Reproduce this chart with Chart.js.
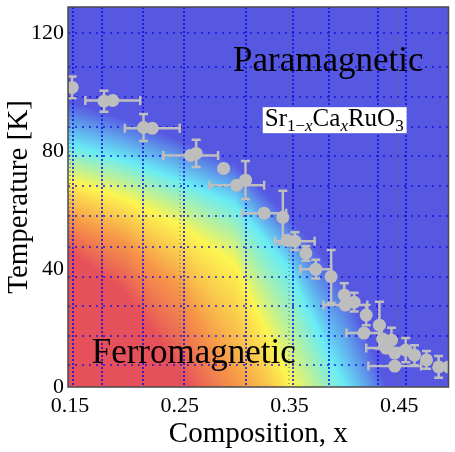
<!DOCTYPE html>
<html>
<head>
<meta charset="utf-8">
<script src="https://cdn.jsdelivr.net/npm/chart.js@4.4.1/dist/chart.umd.min.js"></script>
<style>
  html, body { margin: 0; padding: 0; background: #fff; }
  #wrap { width: 455px; height: 452px; }
</style>
</head>
<body>
<div id="wrap"><canvas id="phase" width="455" height="452"></canvas></div>
<script>
// Tc points
var compX = [0.152, 0.181, 0.189, 0.217, 0.225, 0.260, 0.265, 0.290, 0.302, 0.310,
             0.327, 0.344, 0.348, 0.355, 0.365, 0.374, 0.388, 0.400, 0.401, 0.409,
             0.420, 0.432, 0.418, 0.435, 0.443, 0.438, 0.446, 0.456, 0.464, 0.446,
             0.475, 0.486, 0.495];
var tempK = [101.7, 97.0, 97.3, 88.1, 87.8, 78.6, 79.3, 74.2, 68.5, 70.2,
             59.0, 57.6, 49.8, 49.5, 45.4, 40.0, 37.5, 31.2, 27.8, 28.8,
             24.4, 21.0, 18.3, 16.3, 15.9, 13.2, 11.5, 12.5, 10.8, 7.1,
             9.2, 6.8, 6.8];
var errX  = [0, 0, 0.025, 0, 0.025, 0.025, 0, 0, 0.025, 0,
             0.02, 0, 0, 0.018, 0, 0.014, 0, 0, 0.02, 0,
             0, 0, 0.016, 0, 0, 0.018, 0, 0, 0, 0.024,
             0, 0, 0];
var errT  = [3.7, 3.6, 0, 4.6, 0, 0, 4.6, 0, 0, 6.5,
             0, 9, 0, 3, 2.5, 3.2, 9, 4, 0, 3.2,
             3.4, 7.9, 0, 0, 4.2, 0, 0, 4.1, 3.4, 0,
             3, 3.7, 0];

// axes
var xTickLabels = [0.15, 0.25, 0.35, 0.45];
var yTickLabels = [0, 40, 80, 120];
var xGridLines = [0.153, 0.179, 0.217, 0.254, 0.31, 0.353, 0.386, 0.431, 0.456];
var yGridLines = [7.5, 17.3, 27.5, 37.3, 47.5, 58, 68.1, 78.3, 88.1, 98.3, 108.5, 120.3];

// background map: temperature at which each colour sits, per composition column
var mapX      = [0.15, 0.20, 0.25, 0.30, 0.35, 0.40, 0.45, 0.50];
var mapRed    = [46, 32, 5, -30, -60, -90, -120, -150];
var mapOrange = [57, 49, 33, 2, -30, -60, -90, -120];
var mapYellow = [70, 64, 55, 42, 2, -40, -80, -110];
var mapCyan   = [82, 77, 70, 62, 40, 0, -40, -80];
var mapBlue   = [97, 91, 84, 76, 58, 36, -10, -60];
var mapColors = [[230, 80, 90], [246, 150, 72], [252, 245, 80], [105, 236, 245], [86, 88, 226]];

function colAt(arr, x) {
  if (x <= mapX[0]) return arr[0];
  for (var i = 1; i < mapX.length; i++) {
    if (x <= mapX[i]) {
      var f = (x - mapX[i - 1]) / (mapX[i] - mapX[i - 1]);
      return arr[i - 1] + f * (arr[i] - arr[i - 1]);
    }
  }
  return arr[arr.length - 1];
}

function mixColor(lv, t) {
  if (t <= lv[0]) return mapColors[0];
  if (t >= lv[4]) return mapColors[4];
  for (var k = 0; k < 4; k++) {
    if (t < lv[k + 1]) {
      var f = (t - lv[k]) / (lv[k + 1] - lv[k]);
      var a = mapColors[k], b = mapColors[k + 1];
      return [a[0] + f * (b[0] - a[0]), a[1] + f * (b[1] - a[1]), a[2] + f * (b[2] - a[2])];
    }
  }
  return mapColors[4];
}

var heatmap = {
  id: 'heatmap',
  beforeDraw: function(chart) {
    var a = chart.chartArea, sx = chart.scales.x, sy = chart.scales.y;
    var w = Math.round(a.right - a.left), h = Math.round(a.bottom - a.top);
    var off = document.createElement('canvas');
    off.width = w; off.height = h;
    var octx = off.getContext('2d');
    var img = octx.createImageData(w, h);
    var levels = [mapRed, mapOrange, mapYellow, mapCyan, mapBlue];
    for (var i = 0; i < w; i++) {
      var x = sx.getValueForPixel(a.left + i + 0.5);
      var lv = levels.map(function(arr) { return colAt(arr, x); });
      for (var j = 0; j < h; j++) {
        var t = sy.getValueForPixel(a.top + j + 0.5);
        var c = mixColor(lv, t);
        var k = (j * w + i) * 4;
        img.data[k] = c[0]; img.data[k + 1] = c[1]; img.data[k + 2] = c[2]; img.data[k + 3] = 255;
      }
    }
    octx.putImageData(img, 0, 0);
    chart.ctx.drawImage(off, a.left, a.top);
  }
};

var errorBars = {
  id: 'errorBars',
  beforeDatasetsDraw: function(chart) {
    var ctx = chart.ctx, sx = chart.scales.x, sy = chart.scales.y, a = chart.chartArea;
    ctx.save();
    ctx.beginPath();
    ctx.rect(a.left, a.top, a.right - a.left, a.bottom - a.top);
    ctx.clip();
    ctx.strokeStyle = '#bebebe';
    ctx.lineWidth = 2.5;
    var cap = 4.5;
    for (var i = 0; i < compX.length; i++) {
      var px = sx.getPixelForValue(compX[i]), py = sy.getPixelForValue(tempK[i]);
      ctx.beginPath();
      if (errX[i]) {
        var x0 = sx.getPixelForValue(compX[i] - errX[i]), x1 = sx.getPixelForValue(compX[i] + errX[i]);
        ctx.moveTo(x0, py); ctx.lineTo(x1, py);
        ctx.moveTo(x0, py - cap); ctx.lineTo(x0, py + cap);
        ctx.moveTo(x1, py - cap); ctx.lineTo(x1, py + cap);
      }
      if (errT[i]) {
        var y0 = sy.getPixelForValue(tempK[i] - errT[i]), y1 = sy.getPixelForValue(tempK[i] + errT[i]);
        ctx.moveTo(px, y0); ctx.lineTo(px, y1);
        ctx.moveTo(px - cap, y0); ctx.lineTo(px + cap, y0);
        ctx.moveTo(px - cap, y1); ctx.lineTo(px + cap, y1);
      }
      ctx.stroke();
    }
    ctx.restore();
  }
};

var annotations = {
  id: 'annotations',
  afterDatasetsDraw: function(chart) {
    var ctx = chart.ctx, sx = chart.scales.x, sy = chart.scales.y, a = chart.chartArea;
    ctx.save();
    // frame
    ctx.strokeStyle = '#4a4a4a';
    ctx.lineWidth = 1.5;
    ctx.strokeRect(a.left, a.top, a.right - a.left, a.bottom - a.top);

    ctx.fillStyle = '#000';
    ctx.textBaseline = 'alphabetic';
    ctx.textAlign = 'left';
    ctx.font = "35px 'Liberation Serif', serif";
    ctx.fillText('Paramagnetic', sx.getPixelForValue(0.2986), sy.getPixelForValue(107.3));
    ctx.fillText('Ferromagnetic', sx.getPixelForValue(0.1698), sy.getPixelForValue(8.1));

    // formula label in a white box
    var parts = [['Sr', 0], ['1\u2212', 1], ['x', 2], ['Ca', 0], ['x', 2], ['RuO', 0], ['3', 1]];
    var fonts = ["25px 'Liberation Serif', serif", "17px 'Liberation Serif', serif", "italic 17px 'Liberation Serif', serif"];
    var total = 0;
    parts.forEach(function(p) { ctx.font = fonts[p[1]]; total += ctx.measureText(p[0]).width; });
    var bx = sx.getPixelForValue(0.3257), by = sy.getPixelForValue(95);
    var bh = 26;
    ctx.fillStyle = '#fff';
    ctx.fillRect(bx, by, total + 5, bh);
    ctx.fillStyle = '#000';
    var cx = bx + 2, base = by + 19;
    parts.forEach(function(p) {
      ctx.font = fonts[p[1]];
      ctx.fillText(p[0], cx, p[1] ? base + 5 : base);
      cx += ctx.measureText(p[0]).width;
    });
    ctx.restore();
  }
};

Chart.defaults.font.family = "'Liberation Serif', 'Times New Roman', serif";
Chart.defaults.color = '#000';

var ctx = document.getElementById('phase').getContext('2d');
window.phaseChart = new Chart(ctx, {
  type: 'scatter',
  data: {
    datasets: [{
      data: compX.map(function(x, i) { return { x: x, y: tempK[i] }; }),
      pointRadius: 6.5,
      pointBackgroundColor: '#bebebe',
      pointBorderWidth: 0,
      pointHoverRadius: 6.5
    }]
  },
  options: {
    responsive: false,
    devicePixelRatio: 1,
    animation: false,
    layout: { padding: { top: 7, right: 2, left: 0, bottom: 0 } },
    plugins: {
      legend: { display: false },
      tooltip: { enabled: false }
    },
    scales: {
      x: {
        type: 'linear',
        min: 0.1482,
        max: 0.495,
        afterFit: function(s) { s.height = 65; s.paddingLeft = 0; s.paddingRight = 0; },
        afterBuildTicks: function(s) {
          s.ticks = xTickLabels.concat(xGridLines).sort(function(a, b) { return a - b; })
            .map(function(v) { return { value: v }; });
        },
        ticks: {
          autoSkip: false, minRotation: 0, maxRotation: 0, padding: 6,
          font: { size: 22 },
          callback: function(v) { return xTickLabels.indexOf(v) >= 0 ? v.toFixed(2) : ''; }
        },
        grid: {
          drawTicks: false,
          lineWidth: 2,
          color: function(c) {
            return xTickLabels.indexOf(c.tick && c.tick.value) >= 0 ? 'rgba(110,110,110,0.55)' : 'rgba(10,10,225,0.75)';
          }
        },
        border: {
          display: false,
          dash: function(c) { return xTickLabels.indexOf(c.tick && c.tick.value) >= 0 ? [1, 3] : [2, 2]; }
        },
        title: { display: true, text: 'Composition, x', font: { size: 29 }, padding: { top: 0, bottom: 0 } }
      },
      y: {
        min: 0,
        max: 129,
        afterFit: function(s) { s.width = 68; s.paddingTop = 0; s.paddingBottom = 0; },
        afterBuildTicks: function(s) {
          s.ticks = yTickLabels.concat(yGridLines).sort(function(a, b) { return a - b; })
            .map(function(v) { return { value: v }; });
        },
        ticks: {
          autoSkip: false, padding: 4,
          font: { size: 22 },
          callback: function(v) { return yTickLabels.indexOf(v) >= 0 ? String(v) : ''; }
        },
        grid: {
          drawTicks: false,
          lineWidth: 2,
          color: function(c) {
            return yTickLabels.indexOf(c.tick && c.tick.value) >= 0 ? 'rgba(0,0,0,0)' : 'rgba(10,10,225,0.65)';
          }
        },
        border: { display: false, dash: [2, 5] },
        title: { display: true, text: 'Temperature [K]', font: { size: 29 }, padding: { top: 2, bottom: 0 } }
      }
    }
  },
  plugins: [heatmap, errorBars, annotations]
});
</script>
</body>
</html>
